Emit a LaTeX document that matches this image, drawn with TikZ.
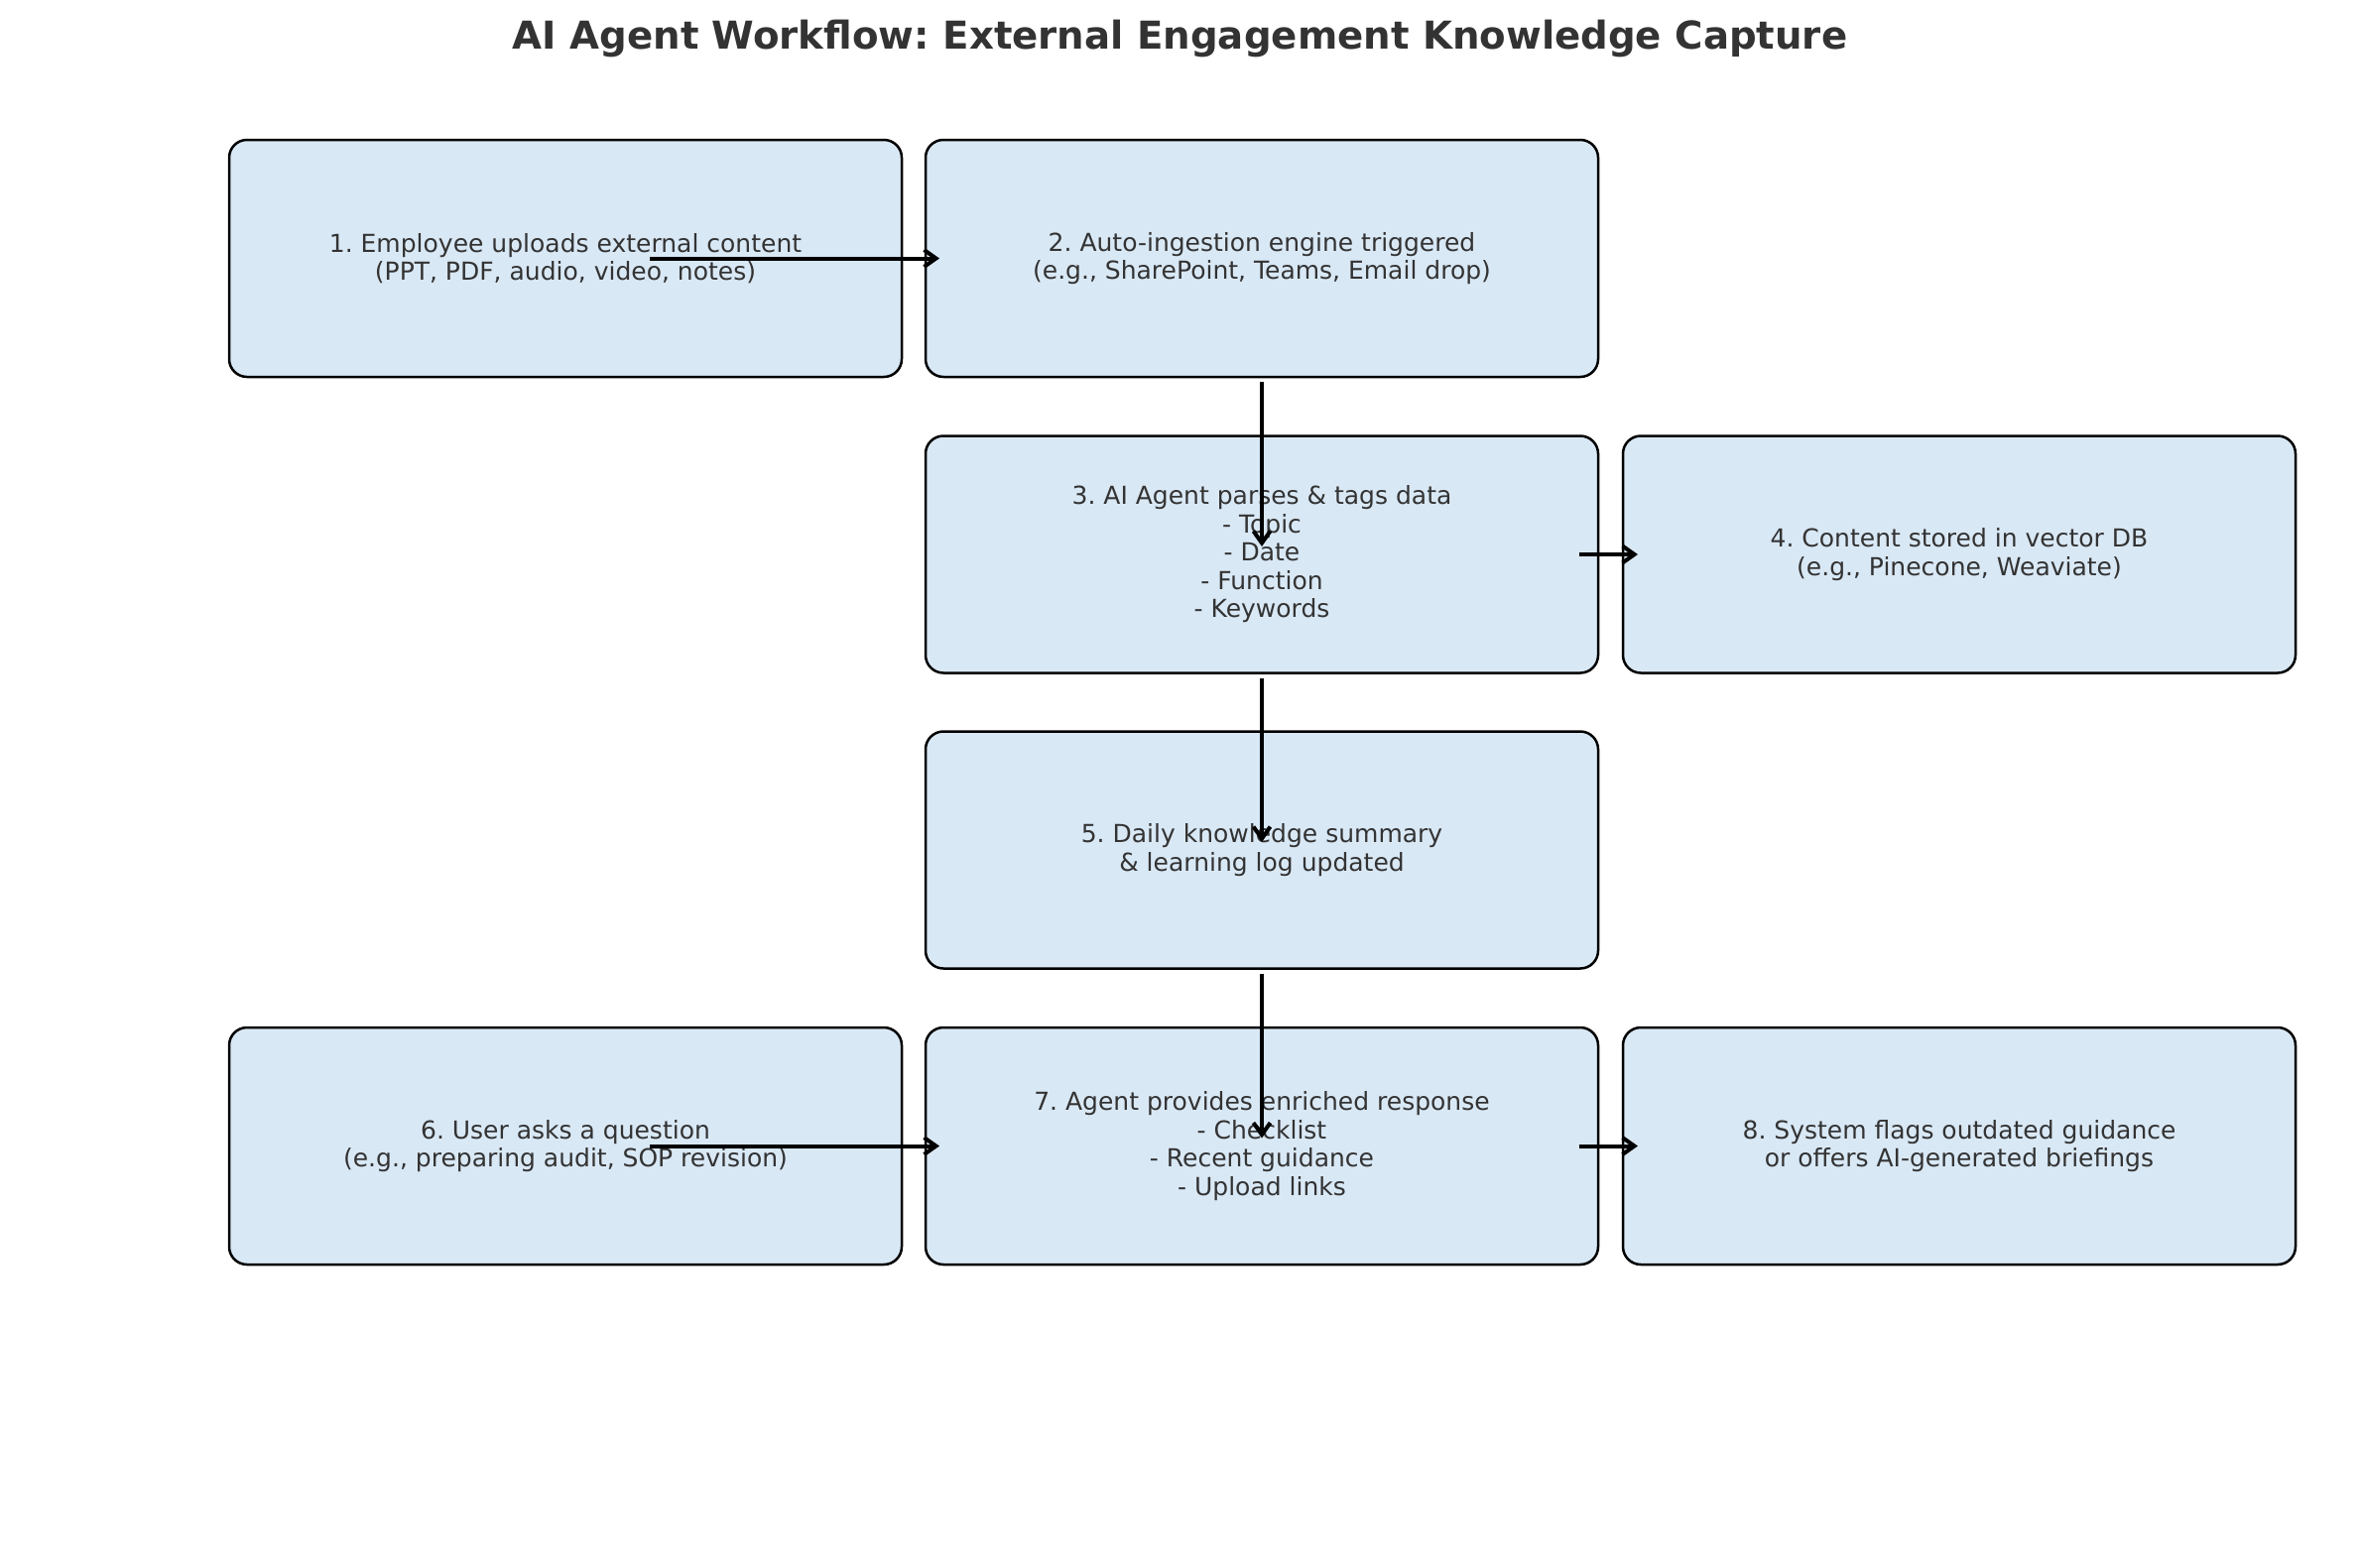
\documentclass[tikz,border=0pt]{standalone}
\usepackage{fontspec}
\setmainfont{DejaVu Sans}
\usetikzlibrary{arrows.meta,calc}
\definecolor{boxfill}{RGB}{217,232,245}
\definecolor{txt}{RGB}{51,51,51}
\begin{document}
\frenchspacing
\begin{tikzpicture}[x=1pt,y=-1pt,
  flowbox/.style={draw=black, line width=2.5pt, fill=boxfill, rounded corners=18pt,
    minimum width=678pt, minimum height=239pt, inner sep=0pt, outer sep=0pt,
    align=center, text=txt, font=\fontsize{25}{28.5}\selectfont},
  flowarrow/.style={draw=black, line width=4pt,
    -{Straight Barb[length=12pt,width=17pt,line width=4pt]}}
]
\useasboundingbox (0,0) rectangle (2379,1580);

\node[font=\bfseries\fontsize{38.7}{46}\selectfont, text=txt, anchor=base] (title) at (1189.5,49)
  {AI Agent Workflow: External Engagement Knowledge Capture};

\node[flowbox] (b1) at (570,260.5) {1. Employee uploads external content\\(PPT, PDF, audio, video, notes)};
\node[flowbox] (b2) at (1272,260.5) {2. Auto-ingestion engine triggered\\(e.g., SharePoint, Teams, Email drop)};
\node[flowbox] (b3) at (1272,559) {3. AI Agent parses \& tags data\\- Topic\\- Date\\- Function\\- Keywords};
\node[flowbox] (b4) at (1975,559) {4. Content stored in vector DB\\(e.g., Pinecone, Weaviate)};
\node[flowbox] (b5) at (1272,857) {5. Daily knowledge summary\\\& learning log updated};
\node[flowbox] (b6) at (570,1155.5) {6. User asks a question\\(e.g., preparing audit, SOP revision)};
\node[flowbox] (b7) at (1272,1155.5) {7. Agent provides enriched response\\- Checklist\\- Recent guidance\\- Upload links};
\node[flowbox] (b8) at (1975,1155.5) {8. System flags outdated guidance\\or offers AI-generated briefings};

\draw[flowarrow] ($(b1.center)+(85,0)$) -- ($(b2.west)+(14,0)$);
\draw[flowarrow] ($(b2.south)+(0,5)$) -- ($(b3.center)+(0,-8)$);
\draw[flowarrow] ($(b3.east)+(-19,0)$) -- ($(b4.west)+(15,0)$);
\draw[flowarrow] ($(b3.south)+(0,5)$) -- ($(b5.center)+(0,-8)$);
\draw[flowarrow] ($(b5.south)+(0,5)$) -- ($(b7.center)+(0,-8)$);
\draw[flowarrow] ($(b6.center)+(85,0)$) -- ($(b7.west)+(14,0)$);
\draw[flowarrow] ($(b7.east)+(-19,0)$) -- ($(b8.west)+(15,0)$);
\end{tikzpicture}
\end{document}
